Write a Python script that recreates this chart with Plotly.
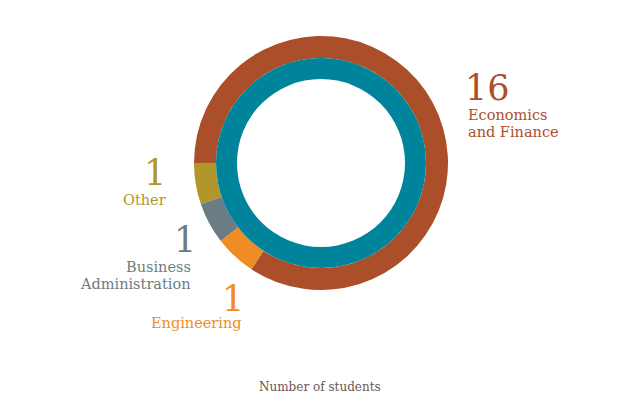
import plotly.graph_objects as go

PAGE_W, PAGE_H = 641, 401
OFF = 8  # browser body margin
W, H = PAGE_W - 2 * OFF, PAGE_H - 2 * OFF

# Data
categories = ["Other", "Business<br>Administration", "Engineering", "Economics<br>and Finance"]
values = [1, 1, 1, 16]
colors = ["#B0962B", "#6B7C83", "#F08C24", "#AB4F2B"]
inner_label = ["All students"]
inner_values = [sum(values)]
inner_color = "#00849B"
axis_title = "Number of students"

# Geometry (page pixels)
cx, cy = 321, 163
r_outer, r_mid, r_inner = 127, 105, 84

def px(x):
    return (x - OFF) / W

def py(y):
    return 1 - (y - OFF) / H

def dom(r):
    return dict(x=[px(cx - r), px(cx + r)], y=[py(cy + r), py(cy - r)])

slice_deg = 360 / sum(values)

fig = go.Figure()
fig.add_trace(go.Pie(
    labels=categories, values=values, sort=False, direction="counterclockwise",
    rotation=270 - slice_deg, hole=r_mid / r_outer, domain=dom(r_outer),
    marker=dict(colors=colors, line=dict(width=0)), textinfo="none",
    hoverinfo="label+value", showlegend=False))
fig.add_trace(go.Pie(
    labels=inner_label, values=inner_values, sort=False,
    hole=r_inner / r_mid, domain=dom(r_mid),
    marker=dict(colors=[inner_color], line=dict(width=0)), textinfo="none",
    hoverinfo="label+value", showlegend=False))

serif = "DejaVu Serif"
# placement: number x, label x, number vertical middle, first label line middle, anchor side
placements = [
    (168, 168, 173, 200, "right"),
    (198, 193, 240, 267, "right"),
    (246, 244, 299, 323, "right"),
    (463, 466, 88, 115, "left"),
]
LINE = 17
for cat, val, col, (nx, lx, ny, ly, anc) in zip(categories, values, colors, placements):
    fig.add_annotation(x=px(nx), y=py(ny), xref="paper", yref="paper",
                       text=str(val), showarrow=False, xanchor=anc, yanchor="middle",
                       font=dict(family=serif, size=35, color=col))
    for i, line in enumerate(cat.split("<br>")):
        fig.add_annotation(x=px(lx), y=py(ly + i * LINE), xref="paper", yref="paper",
                           text=line, showarrow=False, xanchor=anc, yanchor="middle",
                           font=dict(family=serif, size=14.5, color=col))

fig.add_annotation(x=px(320), y=py(387), xref="paper", yref="paper",
                   text=axis_title, showarrow=False, xanchor="center", yanchor="middle",
                   font=dict(family=serif, size=12, color="#6B5454"))

fig.update_layout(width=W, height=H, margin=dict(l=0, r=0, t=0, b=0),
                  paper_bgcolor="white", plot_bgcolor="white")
fig.write_html("out.html")
